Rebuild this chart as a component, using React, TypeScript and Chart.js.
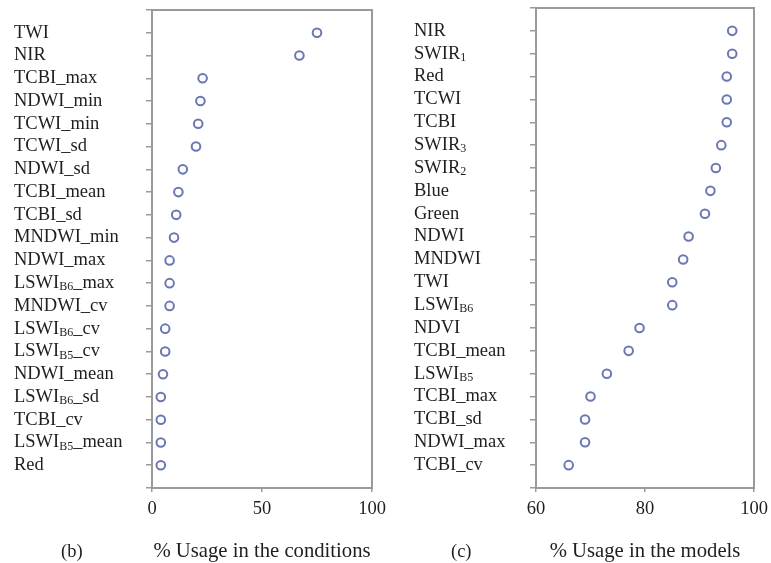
import React, { useEffect, useRef } from 'react';
import { Chart, registerables } from 'chart.js';

Chart.register(...registerables);

const FONT = '"Liberation Serif", "Times New Roman", serif';
const TEXT = '#1e1e1e';
const FRAME = '#9a9a9a';
const MARK = '#6a76b6';

// Panel (b): % usage in the conditions ({..} = subscript)
const condLabels = [
  'TWI', 'NIR', 'TCBI_max', 'NDWI_min', 'TCWI_min', 'TCWI_sd', 'NDWI_sd', 'TCBI_mean',
  'TCBI_sd', 'MNDWI_min', 'NDWI_max', 'LSWI{B6}_max', 'MNDWI_cv', 'LSWI{B6}_cv',
  'LSWI{B5}_cv', 'NDWI_mean', 'LSWI{B6}_sd', 'TCBI_cv', 'LSWI{B5}_mean', 'Red',
];
const condValues = [75, 67, 23, 22, 21, 20, 14, 12, 11, 10, 8, 8, 8, 6, 6, 5, 4, 4, 4, 4];
const condTicks = [0, 50, 100];

// Panel (c): % usage in the models
const modelLabels = [
  'NIR', 'SWIR{1}', 'Red', 'TCWI', 'TCBI', 'SWIR{3}', 'SWIR{2}', 'Blue', 'Green', 'NDWI',
  'MNDWI', 'TWI', 'LSWI{B6}', 'NDVI', 'TCBI_mean', 'LSWI{B5}', 'TCBI_max', 'TCBI_sd',
  'NDWI_max', 'TCBI_cv',
];
const modelValues = [96, 96, 95, 95, 95, 94, 93, 92, 91, 88, 87, 85, 85, 79, 77, 73, 70, 69, 69, 66];
const modelTicks = [60, 80, 100];

function parseLabel(s: string) {
  const segs: { text: string; sub: boolean }[] = [];
  const re = /\{([^}]*)\}/g;
  let last = 0;
  let m: RegExpExecArray | null;
  while ((m = re.exec(s))) {
    if (m.index > last) segs.push({ text: s.slice(last, m.index), sub: false });
    segs.push({ text: m[1], sub: true });
    last = m.index + m[0].length;
  }
  if (last < s.length) segs.push({ text: s.slice(last), sub: false });
  return segs;
}

const richLabels = {
  id: 'richLabels',
  afterDraw(chart: any, _args: any, opts: any) {
    const { ctx, chartArea } = chart;
    const ys = chart.scales.y;
    ctx.save();
    ctx.strokeStyle = FRAME;
    ctx.lineWidth = 2;
    ctx.strokeRect(chartArea.left, chartArea.top, chartArea.right - chartArea.left, chartArea.bottom - chartArea.top);
    ctx.fillStyle = TEXT;
    ctx.textBaseline = 'middle';
    ctx.textAlign = 'left';
    (opts.labels as string[]).forEach((lab, i) => {
      const py = ys.getPixelForValue(i);
      let x = opts.x;
      for (const seg of parseLabel(lab)) {
        ctx.font = seg.sub ? `12px ${FONT}` : `18.5px ${FONT}`;
        ctx.fillText(seg.text, x, seg.sub ? py + 4 : py);
        x += ctx.measureText(seg.text).width;
      }
    });
    ctx.restore();
  },
};

type PanelProps = {
  labels: string[];
  values: number[];
  ticks: number[];
  title: string;
  left: number;
  width: number;
  plotLeft: number;
  padRight: number;
  padTop: number;
  labelX: number;
};

function Panel(p: PanelProps) {
  const ref = useRef<HTMLCanvasElement | null>(null);
  useEffect(() => {
    const n = p.labels.length;
    const chart = new Chart(ref.current as HTMLCanvasElement, {
      type: 'scatter',
      data: {
        datasets: [
          {
            data: p.values.map((v, i) => ({ x: v, y: i })),
            pointStyle: 'circle',
            pointRadius: 4.3,
            pointBorderWidth: 2,
            borderColor: MARK,
            backgroundColor: 'rgba(0,0,0,0)',
          },
        ],
      },
      options: {
        responsive: false,
        animation: false,
        devicePixelRatio: 1,
        layout: { padding: { left: 0, right: p.padRight, top: p.padTop, bottom: 0 } },
        plugins: {
          legend: { display: false },
          tooltip: { enabled: false },
          richLabels: { labels: p.labels, x: p.labelX },
        } as any,
        scales: {
          x: {
            type: 'linear',
            min: p.ticks[0],
            max: p.ticks[p.ticks.length - 1],
            afterBuildTicks: (s: any) => {
              s.ticks = p.ticks.map((v) => ({ value: v }));
            },
            afterFit: (s: any) => {
              s.height = 75;
              s.paddingLeft = 0;
              s.paddingRight = 0;
            },
            ticks: {
              color: TEXT,
              font: { family: FONT, size: 18.5 },
              padding: 6,
              maxRotation: 0,
            },
            grid: { drawOnChartArea: false, drawTicks: true, tickLength: 4, color: FRAME, lineWidth: 1.5 },
            border: { display: true, color: FRAME, width: 2 },
            title: {
              display: true,
              text: p.title,
              color: TEXT,
              font: { family: FONT, size: 20.7 },
              padding: { top: 0, bottom: -1 },
            },
          },
          y: {
            type: 'linear',
            reverse: true,
            min: -1,
            max: n,
            afterBuildTicks: (s: any) => {
              const t: { value: number }[] = [];
              for (let i = -1; i <= n; i++) t.push({ value: i });
              s.ticks = t;
            },
            afterFit: (s: any) => {
              s.width = p.plotLeft;
              s.paddingTop = 0;
              s.paddingBottom = 0;
            },
            ticks: { display: false },
            grid: { drawOnChartArea: false, drawTicks: true, tickLength: 6, color: FRAME, lineWidth: 1.5 },
            border: { display: true, color: FRAME, width: 2 },
          },
        },
      },
      plugins: [richLabels],
    } as any);
    return () => chart.destroy();
  }, []);
  return (
    <canvas
      ref={ref}
      width={p.width}
      height={563}
      style={{ position: 'absolute', left: p.left, top: 0, width: p.width, height: 563 }}
    />
  );
}

const capStyle: React.CSSProperties = {
  position: 'absolute',
  top: 539,
  fontFamily: FONT,
  fontSize: 18.5,
  color: TEXT,
  lineHeight: '24px',
};

export default function App() {
  return (
    <div style={{ position: 'absolute', left: 0, top: 0, width: 771, height: 563, background: '#fff', overflow: 'hidden' }}>
      <Panel
        labels={condLabels}
        values={condValues}
        ticks={condTicks}
        title="% Usage in the conditions"
        left={0}
        width={390}
        plotLeft={152}
        padRight={18}
        padTop={10}
        labelX={14}
      />
      <Panel
        labels={modelLabels}
        values={modelValues}
        ticks={modelTicks}
        title="% Usage in the models"
        left={390}
        width={381}
        plotLeft={146}
        padRight={17}
        padTop={8}
        labelX={24}
      />
      <div style={{ ...capStyle, left: 61 }}>(b)</div>
      <div style={{ ...capStyle, left: 451 }}>(c)</div>
    </div>
  );
}
